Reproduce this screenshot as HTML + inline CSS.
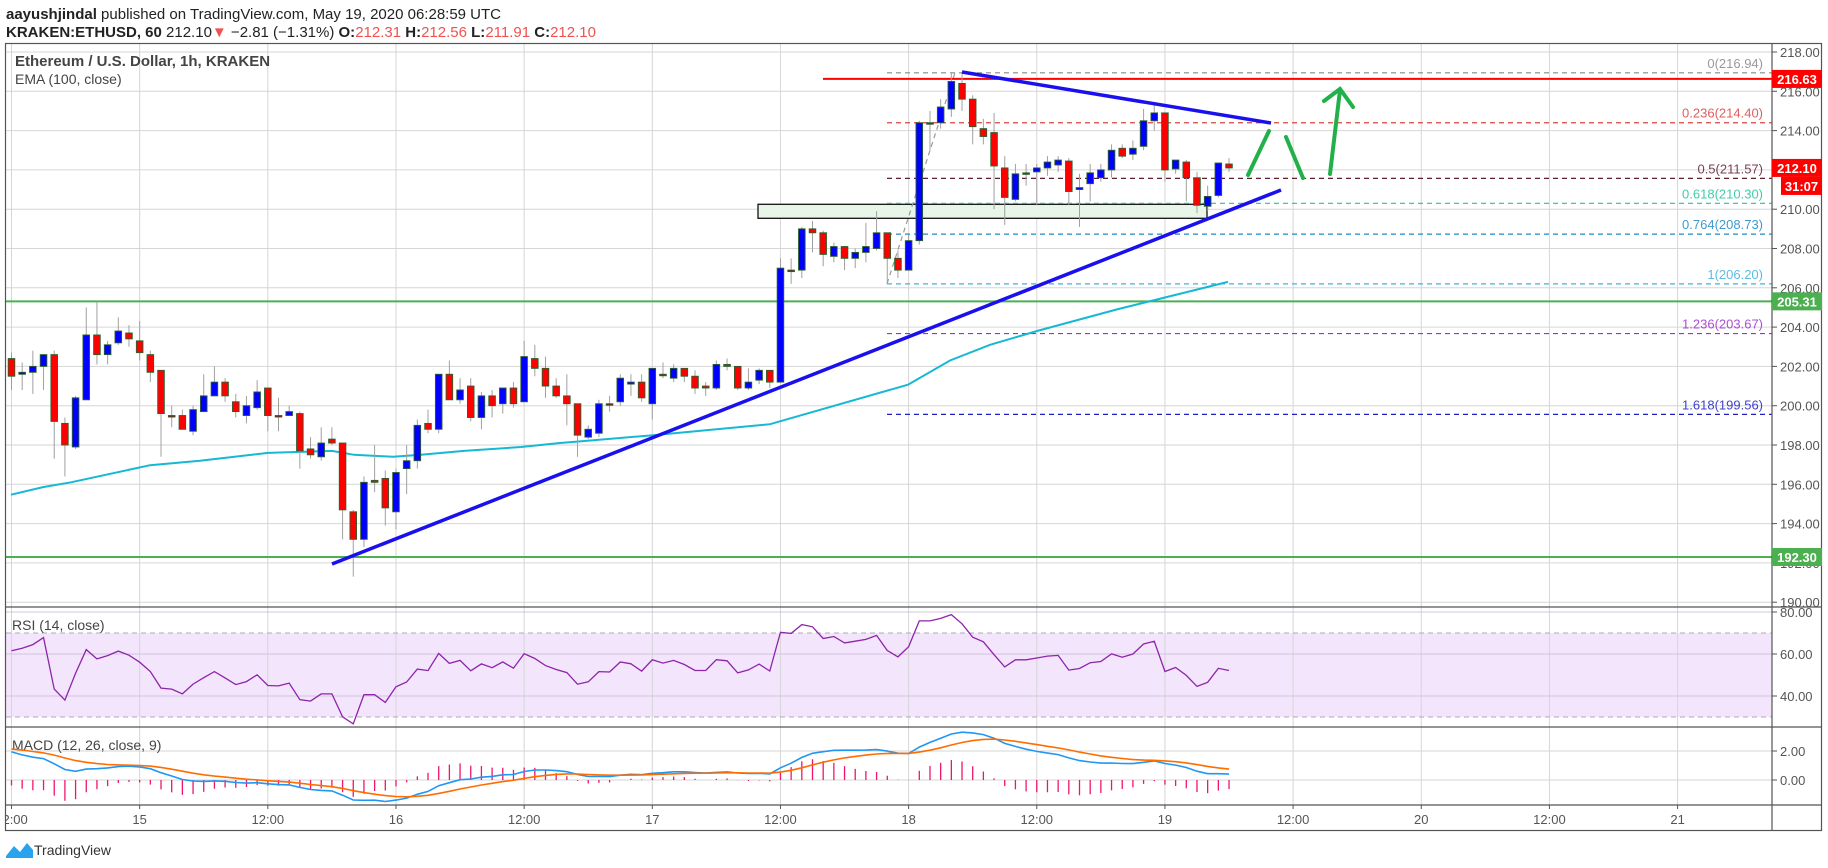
<!DOCTYPE html>
<html><head><meta charset="utf-8">
<style>
html,body{margin:0;padding:0;background:#fff;width:1828px;height:868px;overflow:hidden}
svg{display:block}
text{font-family:"Liberation Sans",sans-serif}
</style></head>
<body>
<svg id="s" width="1828" height="868" xmlns="http://www.w3.org/2000/svg"></svg>
<script>
const D=[[202.4,202.7,200.8,201.5],[201.6,202.2,200.8,201.7],[201.7,202.8,200.6,202.0],[202.0,202.6,200.8,202.6],[202.6,202.8,197.3,199.2],[199.1,199.4,196.4,198.0],[197.9,200.5,197.8,200.4],[200.3,205.0,200.3,203.6],[203.6,205.3,202.1,202.6],[202.6,203.3,202.1,203.1],[203.2,204.5,203.1,203.8],[203.7,204.1,203.0,203.4],[203.3,204.3,202.3,202.7],[202.6,202.8,201.2,201.7],[201.8,201.8,197.4,199.6],[199.5,200.0,198.9,199.45],[199.5,199.8,198.8,198.8],[198.7,200.0,198.5,199.8],[199.7,201.6,199.7,200.5],[200.5,202.0,200.5,201.2],[201.2,201.4,200.2,200.5],[200.2,200.6,199.4,199.7],[199.5,200.5,199.1,200.0],[199.9,201.3,199.8,200.7],[200.9,200.9,198.7,199.5],[199.5,200.4,198.7,199.45],[199.5,200.0,199.5,199.7],[199.6,199.7,196.8,197.7],[197.8,198.4,197.3,197.5],[197.4,198.9,197.2,198.1],[198.3,198.9,198.0,198.1],[198.1,198.1,193.2,194.7],[194.6,194.7,191.3,193.2],[193.2,196.4,192.8,196.1],[196.2,198.0,195.6,196.1],[196.3,196.7,193.9,194.8],[194.6,196.8,193.7,196.6],[196.8,198.0,195.5,197.2],[197.2,199.3,196.8,199.0],[199.1,199.8,198.6,198.8],[198.8,201.6,198.6,201.6],[201.6,202.3,200.3,200.3],[200.3,201.4,200.1,200.8],[201.0,201.4,199.2,199.4],[199.4,200.7,198.8,200.5],[200.5,200.8,199.4,200.0],[200.1,200.9,199.6,200.9],[200.9,201.2,199.9,200.1],[200.2,203.3,200.2,202.5],[202.4,203.1,201.5,201.9],[201.9,202.5,200.4,201.0],[201.0,201.4,200.4,200.5],[200.5,201.6,199.0,200.1],[200.1,200.1,197.4,198.5],[198.4,199.0,198.3,198.8],[198.6,200.3,198.4,200.1],[200.1,200.5,199.7,200.05],[200.2,201.6,200.0,201.4],[201.1,201.6,200.5,201.2],[201.2,201.6,200.2,200.4],[200.1,201.9,199.3,201.9],[201.6,202.2,201.4,201.55],[201.4,202.1,201.2,201.9],[201.9,201.9,201.2,201.5],[201.5,201.8,200.6,200.9],[201.0,201.2,200.5,200.9],[200.9,202.3,200.8,202.1],[202.1,202.4,201.8,202.0],[202.0,202.0,200.8,200.9],[200.9,201.9,200.8,201.2],[201.3,201.9,201.1,201.8],[201.8,201.8,200.9,201.2],[201.2,207.5,201.2,207.0],[206.9,207.5,206.2,206.9],[206.9,209.1,206.5,209.0],[209.0,209.4,207.8,208.8],[208.8,208.9,207.1,207.7],[207.6,208.3,207.3,208.1],[208.1,208.1,206.9,207.5],[207.5,208.0,207.0,207.8],[207.8,209.3,207.3,208.1],[208.0,209.9,207.9,208.8],[208.8,208.8,206.2,207.5],[207.5,207.9,206.5,206.9],[206.9,208.7,206.9,208.4],[208.4,214.5,208.2,214.4],[214.4,215.0,213.0,214.4],[214.4,215.6,214.1,215.2],[215.1,216.9,214.7,216.5],[216.4,216.9,215.0,215.6],[215.6,215.8,213.3,214.2],[214.1,214.6,213.3,213.7],[213.9,214.9,210.0,212.2],[212.1,212.7,209.2,210.6],[210.5,212.3,210.4,211.8],[211.85,212.3,211.2,211.8],[211.9,212.3,210.2,212.1],[212.1,212.7,211.7,212.4],[212.25,212.7,211.9,212.5],[212.45,212.6,210.2,210.9],[211.0,211.8,209.1,211.1],[211.3,212.3,210.4,211.85],[211.6,212.3,211.4,212.0],[212.0,213.3,211.6,213.0],[213.1,213.3,212.6,212.7],[212.8,213.5,212.5,213.1],[213.2,215.1,213.0,214.5],[214.5,215.3,214.0,214.9],[214.9,214.9,211.4,212.0],[212.05,212.5,211.8,212.5],[212.4,212.5,210.4,211.6],[211.6,211.9,209.8,210.2],[210.15,211.2,209.9,210.65],[210.7,212.35,210.6,212.35],[212.3,212.6,211.9,212.1]];
const X=h=>11.5+h*10.68, Y=p=>52+(218-p)*19.65;
const RY=v=>612+(80-v)*2.1, MY=v=>780-v*14.5;
const R=1772;
let o='';
o+='<defs><clipPath id="cm"><rect x="6" y="44" width="1766" height="563"/></clipPath><clipPath id="cr"><rect x="6" y="608" width="1766" height="119"/></clipPath><clipPath id="cd"><rect x="6" y="728" width="1766" height="77"/></clipPath><clipPath id="ct"><rect x="6" y="806" width="1766" height="25"/></clipPath></defs>';
// header
o+='<text x="6" y="19" font-size="15" fill="#222"><tspan font-weight="bold">aayushjindal</tspan> published on TradingView.com, May 19, 2020 06:28:59 UTC</text>';
o+='<text x="6" y="37" font-size="15" fill="#222"><tspan font-weight="bold">KRAKEN:ETHUSD, 60</tspan>  212.10<tspan fill="#ef5350">▼</tspan> −2.81 (−1.31%) <tspan font-weight="bold">O:</tspan><tspan fill="#ef5350">212.31</tspan> <tspan font-weight="bold">H:</tspan><tspan fill="#ef5350">212.56</tspan> <tspan font-weight="bold">L:</tspan><tspan fill="#ef5350">211.91</tspan> <tspan font-weight="bold">C:</tspan><tspan fill="#ef5350">212.10</tspan></text>';
// RSI band
o+='<rect x="6" y="'+RY(70)+'" width="1766" height="'+(RY(30)-RY(70))+'" fill="#f3e5fc"/>';
// vertical gridlines & time labels
const tl=['12:00','15','12:00','16','12:00','17','12:00','18','12:00','19','12:00','20','12:00','21'];
for(let i=0;i<tl.length;i++){const x=X(i*12);
 o+='<line x1="'+x+'" y1="44" x2="'+x+'" y2="805" stroke="#d6d6d6" stroke-width="1"/>';
 o+='<line x1="'+x+'" y1="805" x2="'+x+'" y2="809" stroke="#555"/>';
 o+='<g clip-path="url(#ct)"><text x="'+x+'" y="824" font-size="13" fill="#555" text-anchor="middle">'+tl[i]+'</text></g>';}
// horizontal gridlines main
for(let p=190;p<=218;p+=2){const y=Y(p);o+='<line x1="6" y1="'+y+'" x2="'+R+'" y2="'+y+'" stroke="#d6d6d6"/>';
 o+='<line x1="'+R+'" y1="'+y+'" x2="'+(R+5)+'" y2="'+y+'" stroke="#555"/>';
 if(p!=212) o+='<text x="1780" y="'+(y+5)+'" font-size="13" fill="#555">'+p.toFixed(2)+'</text>';}
[80,60,40].forEach(v=>{const y=RY(v);o+='<line x1="6" y1="'+y+'" x2="'+R+'" y2="'+y+'" stroke="#d0c4dc"/><line x1="'+R+'" y1="'+y+'" x2="'+(R+5)+'" y2="'+y+'" stroke="#555"/><text x="1780" y="'+(y+5)+'" font-size="13" fill="#555">'+v.toFixed(2)+'</text>';});
[70,30].forEach(v=>{const y=RY(v);o+='<line x1="6" y1="'+y+'" x2="'+R+'" y2="'+y+'" stroke="#b0a8b8" stroke-dasharray="5,4"/>';});
[2,0].forEach(v=>{const y=MY(v);o+='<line x1="6" y1="'+y+'" x2="'+R+'" y2="'+y+'" stroke="#d6d6d6"/><line x1="'+R+'" y1="'+y+'" x2="'+(R+5)+'" y2="'+y+'" stroke="#555"/><text x="1780" y="'+(y+5)+'" font-size="13" fill="#555">'+v.toFixed(2)+'</text>';});
// main pane content
let m='<g clip-path="url(#cm)">';
// support box
m+='<rect x="758" y="204.3" width="449" height="14" fill="#e8f5e9" stroke="#111" stroke-width="1.3"/>';
// fib levels
const fib=[[0,216.94,'#888'],[0.236,214.40,'#d84343'],[0.5,211.57,'#5d1f2e'],[0.618,210.30,'#22c49a'],[0.764,208.73,'#1e88c8'],[1,206.20,'#40b0e0'],[1.236,203.67,'#a030d0'],[1.618,199.56,'#2020c0']];
fib.forEach(f=>{const y=Y(f[1]);m+='<line x1="887" y1="'+y+'" x2="'+R+'" y2="'+y+'" stroke="'+f[2]+'" stroke-width="1.2" stroke-dasharray="5,4"/>';
 m+='<text x="1763" y="'+(y-5)+'" font-size="13" fill="'+f[2]+'" opacity="0.85" text-anchor="end">'+f[0]+'('+f[1].toFixed(2)+')</text>';});
m+='<line x1="887" y1="'+Y(206.2)+'" x2="955" y2="'+Y(216.94)+'" stroke="#999" stroke-width="1.2" stroke-dasharray="5,4"/>';
// horizontal green/red lines
m+='<line x1="6" y1="'+Y(205.31)+'" x2="'+R+'" y2="'+Y(205.31)+'" stroke="#4caf50" stroke-width="2"/>';
m+='<line x1="6" y1="'+Y(192.30)+'" x2="'+R+'" y2="'+Y(192.30)+'" stroke="#4caf50" stroke-width="2"/>';
m+='<line x1="823" y1="'+Y(216.63)+'" x2="'+R+'" y2="'+Y(216.63)+'" stroke="#ff0000" stroke-width="2"/>';
// EMA
const ema=[[11,195.47],[43,195.86],[71,196.1],[150,196.97],[200,197.2],[268,197.6],[332,197.7],[354,197.5],[393,197.4],[421,197.5],[464,197.7],[521,197.9],[560,198.1],[583,198.2],[653,198.5],[770,199.06],[908,201.07],[950,202.3],[990,203.1],[1037,203.8],[1117,204.9],[1228,206.3]];
m+='<polyline fill="none" stroke="#17b8d4" stroke-width="2" points="'+ema.map(p=>p[0]+','+Y(p[1]).toFixed(1)).join(' ')+'"/>';
// candles
D.forEach((d,i)=>{const x=X(i);const [op,hi,lo,cl]=d;
 m+='<line x1="'+x+'" y1="'+Y(hi)+'" x2="'+x+'" y2="'+Y(lo)+'" stroke="#a0a0a0" stroke-width="1"/>';
 const t=Y(Math.max(op,cl)),b=Y(Math.min(op,cl));const hh=Math.max(b-t,1.5);
 const c=Math.abs(cl-op)<0.06?'#8b1a1a':(cl>=op?'#0000ff':'#ff0000');
 m+='<rect x="'+(x-3.3)+'" y="'+t+'" width="6.6" height="'+hh+'" fill="'+c+'" stroke="#2e5e2e" stroke-width="0.9"/>';});
// trendlines
m+='<line x1="332" y1="564" x2="1281" y2="190" stroke="#1a10ee" stroke-width="3.5"/>';
m+='<line x1="962" y1="72" x2="1271" y2="123" stroke="#1a10ee" stroke-width="3.5"/>';
// green arrows
const g='stroke="#22b04a" stroke-width="4" stroke-linecap="round" fill="none"';
m+='<line x1="1248" y1="175" x2="1269" y2="131" '+g+'/>';
m+='<line x1="1286" y1="137" x2="1303" y2="178" '+g+'/>';
m+='<line x1="1330" y1="174" x2="1340" y2="90" '+g+'/>';
m+='<polyline points="1324,101 1340,89 1353,107" '+g+'/>';
m+='</g>';
o+=m;
// titles
o+='<text x="15" y="66" font-size="15" fill="#444" font-weight="bold">Ethereum / U.S. Dollar, 1h, KRAKEN</text>';
o+='<text x="15" y="84" font-size="14" fill="#444">EMA (100, close)</text>';
o+='<text x="12" y="630" font-size="14" fill="#444">RSI (14, close)</text>';
o+='<text x="12" y="750" font-size="14" fill="#444">MACD (12, 26, close, 9)</text>';
// RSI compute
const C=D.map(d=>d[3]);
let ag=0.32,al=0.2,rsi=[];
for(let i=0;i<C.length;i++){const ch=i?C[i]-C[i-1]:0;ag=(ag*13+Math.max(ch,0))/14;al=(al*13+Math.max(-ch,0))/14;rsi.push(100-100/(1+ag/al));}
o+='<g clip-path="url(#cr)"><polyline fill="none" stroke="#8e24aa" stroke-width="1.3" points="'+rsi.map((v,i)=>X(i)+','+RY(v).toFixed(1)).join(' ')+'"/></g>';
// MACD
let e12=C[0]+1.2,e26=C[0]-1.0,sg=2.2,mc=[],sl=[],hs=[];
for(let i=0;i<C.length;i++){e12+= (C[i]-e12)*2/13;e26+=(C[i]-e26)*2/27;const mm=e12-e26;sg+=(mm-sg)*0.2;mc.push(mm);sl.push(sg);hs.push(mm-sg);}
let md='<g clip-path="url(#cd)">';
hs.forEach((v,i)=>{const x=X(i);md+='<line x1="'+x+'" y1="'+MY(0)+'" x2="'+x+'" y2="'+MY(v*1.8)+'" stroke="#f0146e" stroke-width="1.3"/>';});
md+='<polyline fill="none" stroke="#2196f3" stroke-width="1.6" points="'+mc.map((v,i)=>X(i)+','+MY(v).toFixed(1)).join(' ')+'"/>';
md+='<polyline fill="none" stroke="#ff6d00" stroke-width="1.6" points="'+sl.map((v,i)=>X(i)+','+MY(v).toFixed(1)).join(' ')+'"/>';
md+='</g>';o+=md;
// frames
o+='<rect x="5.5" y="43.5" width="1816" height="787" fill="none" stroke="#555" stroke-width="1.2"/>';
o+='<line x1="'+R+'" y1="43" x2="'+R+'" y2="831" stroke="#555" stroke-width="1.2"/>';
[607,727,805].forEach(y=>{o+='<line x1="5" y1="'+y+'" x2="1822" y2="'+y+'" stroke="#555" stroke-width="1.2"/>';});
// price labels
function lab(y,txt,col,x){x=x||1772;o+='<rect x="'+x+'" y="'+(y-9)+'" width="'+(1822-x)+'" height="18" fill="'+col+'"/><text x="'+(x+(1822-x)/2)+'" y="'+(y+5)+'" font-size="13" font-weight="bold" fill="#fff" text-anchor="middle">'+txt+'</text>';}
lab(Y(216.63),'216.63','#ff0000');
lab(Y(212.10),'212.10','#ff0000');
lab(Y(212.10)+18,'31:07','#ff0000',1781);
lab(Y(205.31),'205.31','#4caf50');
lab(Y(192.30),'192.30','#4caf50');
// logo
o+='<path d="M6,856 L14,846 L20,852 L27,843 L33,850 L33,858 L6,858 Z" fill="#2aa3ef"/>';
o+='<text x="34" y="855" font-size="14" fill="#333">TradingView</text>';
document.getElementById('s').innerHTML=o;
</script>
</body></html>
